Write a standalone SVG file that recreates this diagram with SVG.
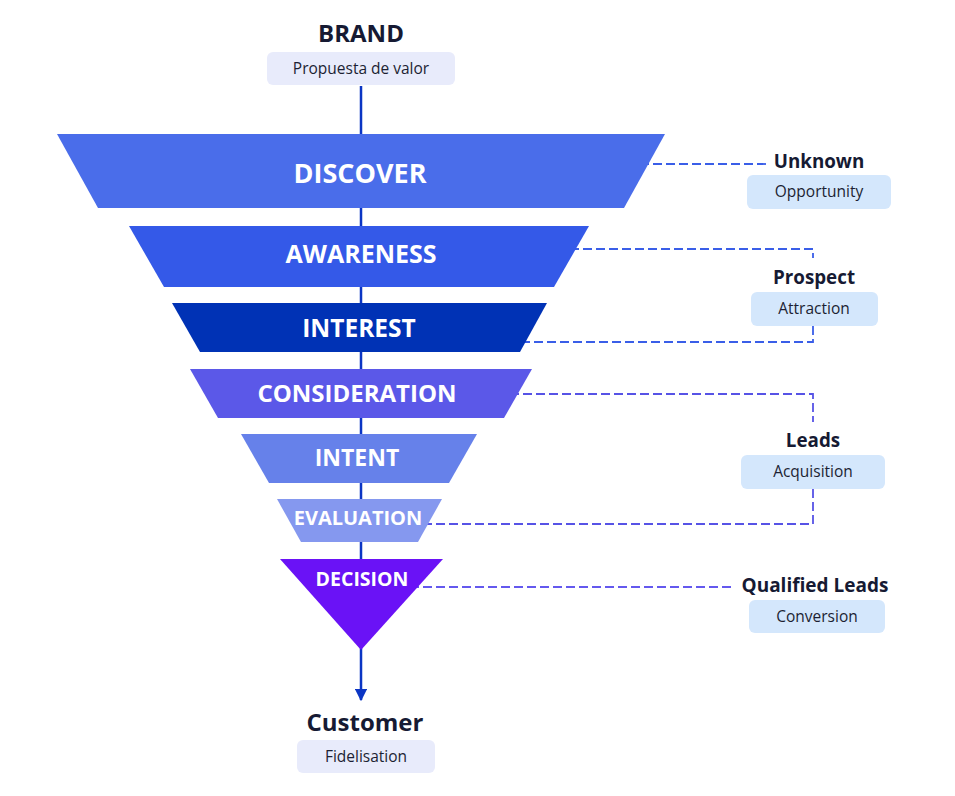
<svg xmlns="http://www.w3.org/2000/svg" width="955" height="796" viewBox="0 0 955 796">
<defs>
<style>
.title{font-family:"Open Sans","Noto Sans","Liberation Sans",sans-serif;font-weight:700;fill:#161a33;text-anchor:middle}
.sub{font-family:"Open Sans","Noto Sans","Liberation Sans",sans-serif;font-size:15.5px;fill:#1c1f33;text-anchor:middle}
.stage{font-family:"Open Sans","Noto Sans","Liberation Sans",sans-serif;font-weight:700;fill:#ffffff;text-anchor:middle}
.pale{fill:#e8ebfb}
.blue{fill:#d4e7fc}
.dash{fill:none;stroke-width:1.8;stroke-dasharray:9 4}
</style>
<marker id="arr" viewBox="0 0 10 10" refX="9" refY="5" markerWidth="5" markerHeight="5" orient="auto" markerUnits="strokeWidth">
<path d="M0,0 L10,5 L0,10 z" fill="#0b35c4"/>
</marker>
</defs>
<rect width="955" height="796" fill="#ffffff"/>
<g id="connectors">
<line x1="361" y1="86" x2="361" y2="700" stroke="#0b35c4" stroke-width="2.5" marker-end="url(#arr)"/>
<path class="dash" stroke="#3a5ee8" d="M640,164 H766"/>
<path class="dash" stroke="#3a5ee8" d="M570,249 H813 V258"/>
<path class="dash" stroke="#3a5ee8" d="M813,326 V342 H520"/>
<path class="dash" stroke="#5753e6" d="M510,394 H813 V422"/>
<path class="dash" stroke="#5753e6" d="M813,489 V524 H420"/>
<path class="dash" stroke="#6459ee" d="M410,587 H731"/>
</g>
<g id="brand">
<text class="title" x="361" y="42" font-size="24">BRAND</text>
<rect class="pale" x="267" y="52" width="188" height="33" rx="6"/>
<text class="sub" x="361" y="74">Propuesta de valor</text>
</g>
<g id="discover">
<polygon points="57,134 665,134 624,208 98,208" fill="#4a6dea"/>
<text class="stage" x="360" y="183" font-size="27">DISCOVER</text>
</g>
<g id="awareness">
<polygon points="129,226 589,226 554,287 164,287" fill="#3459e8"/>
<text class="stage" x="361" y="263" font-size="25">AWARENESS</text>
</g>
<g id="interest">
<polygon points="172,303 547,303 520,352 200,352" fill="#0032b5"/>
<text class="stage" x="359" y="337" font-size="24.5">INTEREST</text>
</g>
<g id="consideration">
<polygon points="190,369 532,369 504,418 218,418" fill="#5b58e8"/>
<text class="stage" x="357" y="402" font-size="24">CONSIDERATION</text>
</g>
<g id="intent">
<polygon points="241,434 477,434 449,483 269,483" fill="#6681ea"/>
<text class="stage" x="357" y="466" font-size="23">INTENT</text>
</g>
<g id="evaluation">
<polygon points="277,499 442,499 418,542 301,542" fill="#8598ef"/>
<text class="stage" x="358" y="525" font-size="20">EVALUATION</text>
</g>
<g id="decision">
<polygon points="280,559 443,559 361,650" fill="#6a12f6"/>
<text class="stage" x="362" y="586" font-size="19.5">DECISION</text>
</g>
<g id="unknown">
<text class="title" x="819" y="168" font-size="18.8">Unknown</text>
<rect class="blue" x="747" y="175" width="144" height="34" rx="6"/>
<text class="sub" x="819" y="197">Opportunity</text>
</g>
<g id="prospect">
<text class="title" x="814" y="284" font-size="18.8">Prospect</text>
<rect class="blue" x="751" y="292" width="127" height="34" rx="6"/>
<text class="sub" x="814" y="314">Attraction</text>
</g>
<g id="leads">
<text class="title" x="813" y="447" font-size="18.8">Leads</text>
<rect class="blue" x="741" y="455" width="144" height="34" rx="6"/>
<text class="sub" x="813" y="477">Acquisition</text>
</g>
<g id="qualified-leads">
<text class="title" x="815" y="592" font-size="19">Qualified Leads</text>
<rect class="blue" x="749" y="600" width="136" height="33" rx="6"/>
<text class="sub" x="817" y="622">Conversion</text>
</g>
<g id="customer">
<text class="title" x="365" y="731" font-size="24">Customer</text>
<rect class="pale" x="297" y="740" width="138" height="33" rx="6"/>
<text class="sub" x="366" y="762">Fidelisation</text>
</g>
</svg>
